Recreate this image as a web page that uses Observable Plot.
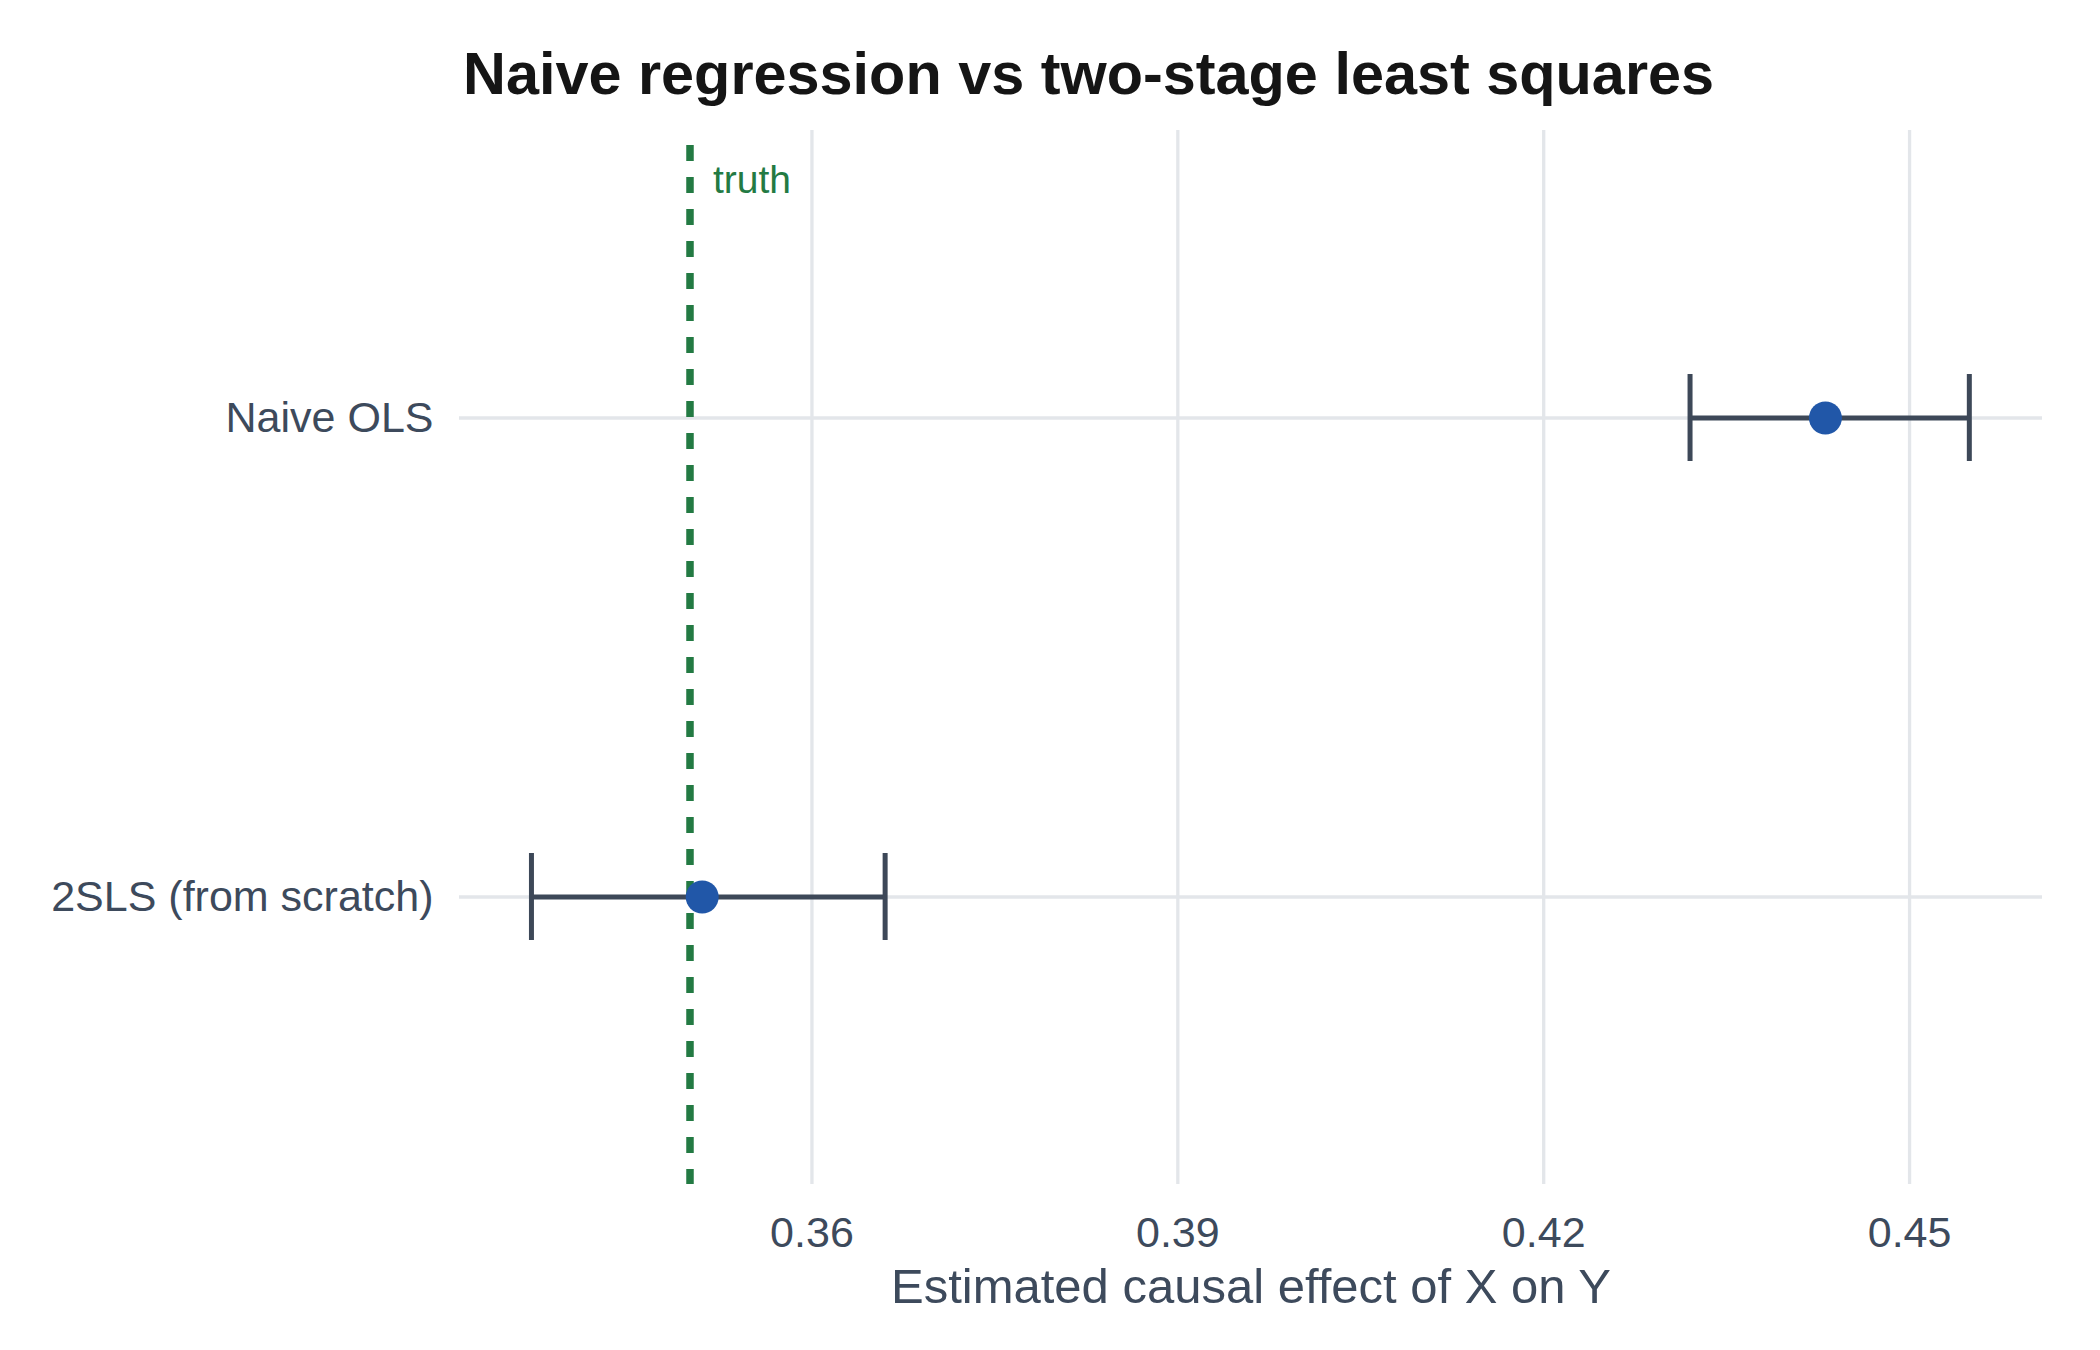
<!DOCTYPE html>
<html>
<head>
<meta charset="utf-8">
<script src="https://cdn.jsdelivr.net/npm/d3@7"></script>
<script src="https://cdn.jsdelivr.net/npm/@observablehq/plot@0.6"></script>
<style>
  html, body { margin: 0; padding: 0; background: #ffffff; }
  #wrap { position: relative; width: 2100px; height: 1350px; background: #ffffff; }
  #titlebox { position: relative; width: 2100px; height: 120px; }
  #title { position: absolute; left: 463px; top: 44px; line-height: 60px; font-size: 59.4px; font-weight: bold;
           font-family: "Liberation Sans", Arial, Helvetica, sans-serif; color: #151515; white-space: nowrap; }
  #chart svg { display: block; }
</style>
</head>
<body>
<div id="wrap">
  <div id="titlebox"><div id="title">Naive regression vs two-stage least squares</div></div>
  <div id="chart"></div>
</div>
<script>
// ---- data ----
const methods = ["Naive OLS", "2SLS (from scratch)"];
const estimates = [0.4431, 0.3510];
const ciLow = [0.4320, 0.3370];
const ciHigh = [0.4549, 0.3660];
const truthValue = [0.35];
const truthLabel = ["truth"];
const xTicks = [0.36, 0.39, 0.42, 0.45];
const xLabel = ["Estimated causal effect of X on Y"];

const rows = methods.map((m, i) => ({method: m, est: estimates[i], lo: ciLow[i], hi: ciHigh[i]}));

const textColor = "#3d4a5c";
const barColor = "#3d4858";
const dotColor = "#2157a8";
const truthColor = "#237a43";
const gridColor = "#e3e6ea";

const chart = Plot.plot({
  width: 2100,
  height: 1230,
  marginLeft: 459,
  marginRight: 58,
  marginTop: 10,
  marginBottom: 166,
  style: {fontFamily: "'Liberation Sans', Arial, Helvetica, sans-serif", background: "#ffffff", color: textColor},
  x: {domain: [0.3311, 0.4609]},
  y: {type: "band", domain: methods, paddingInner: 0, paddingOuter: 0.1},
  marks: [
    Plot.gridX(xTicks, {stroke: gridColor, strokeOpacity: 1, strokeWidth: 3.3}),
    Plot.gridY(methods, {stroke: gridColor, strokeOpacity: 1, strokeWidth: 3.3}),
    Plot.axisX(xTicks, {tickSize: 0, tickPadding: 32, fontSize: 43, tickFormat: d3.format(".2f"), label: null}),
    Plot.axisY({tickSize: 0, tickPadding: 26, fontSize: 43, label: null}),
    Plot.ruleX(truthValue, {x: d => d, stroke: truthColor, strokeWidth: 7.5, strokeDasharray: "16,16", strokeDashoffset: 17}),
    Plot.text(truthValue, {x: d => d, text: (d, i) => truthLabel[i], frameAnchor: "top", dx: 23, dy: 50.5,
      textAnchor: "start", lineAnchor: "middle", fontSize: 39, fill: truthColor}),
    Plot.ruleY(rows, {y: "method", x1: "lo", x2: "hi", stroke: barColor, strokeWidth: 5}),
    Plot.tickX(rows, {x: "lo", y: "method", insetTop: 196, insetBottom: 196, stroke: barColor, strokeWidth: 5}),
    Plot.tickX(rows, {x: "hi", y: "method", insetTop: 196, insetBottom: 196, stroke: barColor, strokeWidth: 5}),
    Plot.dot(rows, {x: "est", y: "method", r: 16.5, fill: dotColor, stroke: null}),
    Plot.text(xLabel, {text: d => d, frameAnchor: "bottom", dy: 103, lineAnchor: "middle", fontSize: 49, fill: textColor})
  ]
});
document.getElementById("chart").appendChild(chart);
</script>
</body>
</html>
